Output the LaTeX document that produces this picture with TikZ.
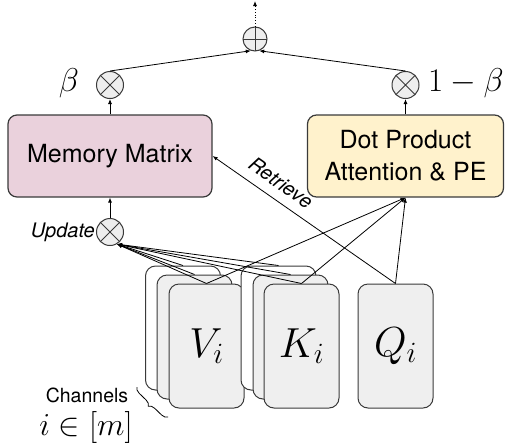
\RequirePackage{fix-cm}
\documentclass[tikz,border=0pt]{standalone}
\usepackage[no-math]{fontspec}
\setmainfont{TeX Gyre Heros}
\usetikzlibrary{arrows.meta,decorations.pathreplacing}
\definecolor{mmfill}{HTML}{EAD1DC}
\definecolor{dpfill}{HTML}{FFF2CC}
\definecolor{boxline}{HTML}{3A3A3A}
\definecolor{opfill}{HTML}{EEEEEE}
\definecolor{cardfill}{HTML}{EFEFEF}
\tikzset{
  bigbox/.style={draw=boxline, line width=1.2pt, rounded corners=9pt,
    minimum width=#1, minimum height=82pt, inner sep=0pt, align=center,
    font=\fontsize{25}{32}\selectfont},
  card/.style={draw=boxline, line width=1pt, rounded corners=10pt,
    minimum width=75pt, minimum height=124pt, inner sep=0pt, fill=cardfill,
    font=\fontsize{42}{50}\selectfont},
  timesop/.style={circle, draw=boxline, line width=1pt, fill=opfill,
    minimum size=27pt, inner sep=0pt,
    path picture={\draw[line width=1pt, boxline]
      (path picture bounding box.north west) -- (path picture bounding box.south east)
      (path picture bounding box.north east) -- (path picture bounding box.south west);}},
  plusop/.style={circle, draw=boxline, line width=1pt, fill=opfill,
    minimum size=24pt, inner sep=0pt,
    path picture={\draw[line width=1pt, boxline]
      (path picture bounding box.north) -- (path picture bounding box.south)
      (path picture bounding box.west) -- (path picture bounding box.east);}},
  conn/.style={line width=0.8pt, -{Latex[length=5pt,width=4pt]}},
  labeltext/.style={font=\itshape\fontsize{20}{24}\selectfont},
  mathbig/.style={font=\fontsize{33}{40}\selectfont, inner sep=0pt}
}
\begin{document}
\begin{tikzpicture}[x=1pt,y=-1pt]
\useasboundingbox (0,0) rectangle (508,445);
% main boxes
\node[bigbox=204pt, fill=mmfill] (mm) at (110,156) {Memory Matrix};
\node[bigbox=196pt, fill=dpfill] (dp) at (405.5,156) {Dot Product\\Attention \& PE};
% operators
\node[timesop] (lo) at (110,85) {};
\node[timesop] (ro) at (405.5,85) {};
\node[plusop] (pl) at (255,39) {};
\coordinate (out) at (255,1);
\node[timesop] (up) at (110,232) {};
% labels
\node[mathbig, anchor=base] (beta) at (69,91) {$\beta$};
\node[mathbig, anchor=base west] (omb) at (428,91) {$1-\beta$};
\node[labeltext, anchor=east, inner sep=1pt] (upl) at (up.west) {Update};
% cards
\node[card, fill=white] (vb) at (183,328) {};
\node[card] (vm) at (194.5,337) {};
\node[card] (vf) at (206.5,346) {$V_i$};
\node[card, fill=white] (kb) at (278.5,328) {};
\node[card] (km) at (290.5,337) {};
\node[card] (kf) at (301.5,346) {$K_i$};
\node[card] (q) at (395.5,346) {$Q_i$};
% channels
\node[font=\fontsize{19.5}{23}\selectfont, inner sep=0pt] (ch) at (87,395) {Channels};
\node[font=\fontsize{32}{38}\selectfont, inner sep=0pt] (im) at (86,427) {$i\in[m]$};
\draw[decorate, decoration={brace, amplitude=6pt}, line width=0.8pt] (168,417) -- (137,387);
% connectors
\draw[conn] (mm.north) -- (lo);
\draw[conn] (dp.north) -- (ro);
\draw[conn] (lo.north) -- (pl.250);
\draw[conn] (ro.north) -- (pl.290);
\draw[conn, dotted] (pl) -- (out);
\draw[conn] (up) -- (mm.south);
\foreach \c in {vb,vm,vf,kb,km,kf}{
  \draw[conn] (\c.north) -- (up.-60);
}
\draw[conn] (vf.north) -- (dp.south);
\draw[conn] (kf.north) -- (dp.south);
\draw[conn] (q.north) -- (dp.south);
\draw[conn] (q.north) -- node[labeltext, sloped, above=6pt, pos=0.68] {Retrieve} (mm.east);
\end{tikzpicture}
\end{document}
